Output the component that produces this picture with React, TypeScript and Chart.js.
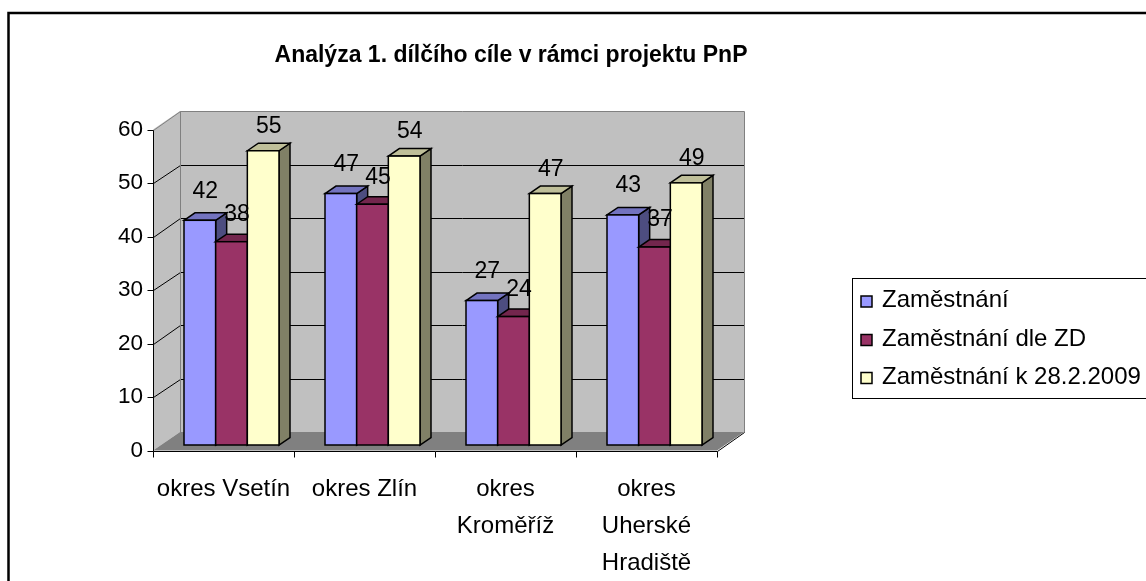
import React, { useEffect, useRef } from 'react';
import { Chart, registerables } from 'chart.js';

Chart.register(...registerables);

// ---------- data ----------
const chartTitle = 'Analýza 1. dílčího cíle v rámci projektu PnP';
const categories: (string | string[])[] = [
  'okres Vsetín',
  'okres Zlín',
  ['okres', 'Kroměříž'],
  ['okres', 'Uherské', 'Hradiště'],
];
const seriesNames = ['Zaměstnání', 'Zaměstnání dle ZD', 'Zaměstnání k 28.2.2009'];
const zamestnani = [42, 47, 27, 43];
const zamestnaniDleZD = [38, 45, 24, 37];
const zamestnaniK2822009 = [55, 54, 47, 49];
const yMin = 0;
const yMax = 60;
const yStep = 10;

// ---------- style ----------
const FONT = '"Liberation Sans", Arial, Helvetica, sans-serif';
const COLORS = ['#9999FF', '#993366', '#FFFFCC'];
const TOP_COLORS = ['#7373BF', '#73264D', '#BFBF99'];
const SIDE_COLORS = ['#4D4D80', '#4D1A33', '#808066'];
const LABEL_RAISE = [29, 27, 24];
const FRONT = { dx: -8, dy: 5.5 };
const BACK = { dx: 19, dy: -13 };
const DEPTH = { dx: 11, dy: -7.5 };
const WALL = '#C0C0C0';
const FLOOR = '#808080';
const EDGE = '#808080';

const crisp = (v: number) => Math.round(v) + 0.5;

function poly(ctx: CanvasRenderingContext2D, pts: number[][], fill?: string, stroke?: string, lw = 1) {
  ctx.beginPath();
  ctx.moveTo(pts[0][0], pts[0][1]);
  for (let i = 1; i < pts.length; i++) ctx.lineTo(pts[i][0], pts[i][1]);
  ctx.closePath();
  if (fill) {
    ctx.fillStyle = fill;
    ctx.fill();
  }
  if (stroke) {
    ctx.strokeStyle = stroke;
    ctx.lineWidth = lw;
    ctx.stroke();
  }
}

function line(ctx: CanvasRenderingContext2D, x1: number, y1: number, x2: number, y2: number, color: string, lw = 1) {
  ctx.beginPath();
  ctx.moveTo(x1, y1);
  ctx.lineTo(x2, y2);
  ctx.strokeStyle = color;
  ctx.lineWidth = lw;
  ctx.stroke();
}

const excel3d = {
  id: 'excel3d',
  beforeDraw(chart: any) {
    const { ctx, chartArea: ca, scales } = chart;
    const ys = scales.y;
    const L = ca.left;
    const R = ca.right;
    const fy = (v: number) => ys.getPixelForValue(v) + FRONT.dy;
    const by = (v: number) => ys.getPixelForValue(v) + BACK.dy;
    const fxL = L + FRONT.dx;
    const fxR = R + FRONT.dx;
    const bxL = L + BACK.dx;
    const bxR = R + BACK.dx;
    ctx.save();
    // back wall
    ctx.fillStyle = WALL;
    ctx.fillRect(bxL, by(yMax), bxR - bxL, by(yMin) - by(yMax));
    // side wall
    poly(ctx, [[fxL, fy(yMin)], [fxL, fy(yMax)], [bxL, by(yMax)], [bxL, by(yMin)]], WALL);
    // floor
    poly(ctx, [[fxL, fy(yMin)], [fxR, fy(yMin)], [bxR, by(yMin)], [bxL, by(yMin)]], FLOOR);
    // gridlines
    for (let v = yMin + yStep; v < yMax; v += yStep) {
      line(ctx, crisp(bxL), crisp(by(v)), crisp(bxR), crisp(by(v)), '#000000');
      line(ctx, crisp(fxL), crisp(fy(v)), crisp(bxL), crisp(by(v)), '#000000');
    }
    // wall edges
    line(ctx, crisp(bxL), crisp(by(yMax)), crisp(bxR), crisp(by(yMax)), EDGE);
    line(ctx, crisp(bxL), crisp(by(yMax)), crisp(bxL), crisp(by(yMin)), EDGE);
    line(ctx, crisp(bxR), crisp(by(yMax)), crisp(bxR), crisp(by(yMin)), EDGE);
    line(ctx, crisp(fxL), crisp(fy(yMax)), crisp(bxL), crisp(by(yMax)), EDGE);
    line(ctx, crisp(fxR), crisp(fy(yMin)), crisp(bxR), crisp(by(yMin)), '#000000');
    // axes
    line(ctx, crisp(fxL), crisp(fy(yMax)), crisp(fxL), crisp(fy(yMin)), '#000000');
    line(ctx, crisp(fxL), crisp(fy(yMin)), crisp(fxR), crisp(fy(yMin)), '#000000');
    for (let v = yMin; v <= yMax; v += yStep) {
      line(ctx, crisp(fxL - 6), crisp(fy(v)), crisp(fxL), crisp(fy(v)), '#000000');
    }
    const n = chart.data.labels.length;
    for (let i = 0; i <= n; i++) {
      const x = fxL + (i * (fxR - fxL)) / n;
      line(ctx, crisp(x), crisp(fy(yMin)), crisp(x), crisp(fy(yMin) + 6), '#000000');
    }
    ctx.restore();
  },
  afterDatasetsDraw(chart: any) {
    const { ctx } = chart;
    const n = chart.data.labels.length;
    const nd = chart.data.datasets.length;
    ctx.save();
    ctx.lineJoin = 'miter';
    for (let i = 0; i < n; i++) {
      for (let d = 0; d < nd; d++) {
        const el = chart.getDatasetMeta(d).data[i];
        const { x, y, base, width } = el.getProps(['x', 'y', 'base', 'width'], true);
        const xl = x - width / 2;
        const xr = x + width / 2;
        poly(ctx, [[xr, base], [xr, y], [xr + DEPTH.dx, y + DEPTH.dy], [xr + DEPTH.dx, base + DEPTH.dy]], SIDE_COLORS[d], '#000000', 1.5);
        poly(ctx, [[xl, y], [xl + DEPTH.dx, y + DEPTH.dy], [xr + DEPTH.dx, y + DEPTH.dy], [xr, y]], TOP_COLORS[d], '#000000', 1.5);
        el.draw(ctx);
        ctx.strokeStyle = '#000000';
        ctx.lineWidth = 1.5;
        ctx.strokeRect(xl, y, width, base - y);
      }
    }
    ctx.restore();
  },
  afterDraw(chart: any) {
    const { ctx } = chart;
    const n = chart.data.labels.length;
    const nd = chart.data.datasets.length;
    ctx.save();
    // data labels
    ctx.fillStyle = '#000000';
    ctx.font = `23px ${FONT}`;
    ctx.textAlign = 'center';
    ctx.textBaseline = 'middle';
    for (let d = 0; d < nd; d++) {
      for (let i = 0; i < n; i++) {
        const el = chart.getDatasetMeta(d).data[i];
        const { x, y } = el.getProps(['x', 'y'], true);
        ctx.fillText(String(chart.data.datasets[d].data[i]), x + DEPTH.dx / 2, y - LABEL_RAISE[d]);
      }
    }
    // title
    ctx.font = `bold 23px ${FONT}`;
    ctx.textBaseline = 'alphabetic';
    ctx.fillText(chartTitle, 511, 62);
    // legend
    ctx.strokeStyle = '#000000';
    ctx.lineWidth = 1;
    ctx.strokeRect(852.5, 278.5, 400, 120);
    ctx.font = `24px ${FONT}`;
    ctx.textAlign = 'left';
    ctx.textBaseline = 'middle';
    const legendY = [301.5, 340, 378];
    for (let d = 0; d < nd; d++) {
      const cy = legendY[d];
      ctx.fillStyle = chart.data.datasets[d].backgroundColor;
      ctx.fillRect(861, cy - 5.5, 11, 11);
      ctx.strokeStyle = '#000000';
      ctx.lineWidth = 1.5;
      ctx.strokeRect(861, cy - 5.5, 11, 11);
      ctx.fillStyle = '#000000';
      ctx.fillText(chart.data.datasets[d].label, 882, cy - 1);
    }
    // outer border
    ctx.strokeStyle = '#000000';
    ctx.lineWidth = 2.5;
    ctx.strokeRect(8.5, 13, 1300, 800);
    ctx.restore();
  },
};

export default function App() {
  const canvasRef = useRef<HTMLCanvasElement | null>(null);

  useEffect(() => {
    const canvas = canvasRef.current;
    if (!canvas) return;
    const series = [zamestnani, zamestnaniDleZD, zamestnaniK2822009];
    const chart = new Chart(canvas, {
      type: 'bar',
      data: {
        labels: categories,
        datasets: series.map((values, d) => ({
          label: seriesNames[d],
          data: values,
          backgroundColor: COLORS[d],
          borderWidth: 0,
          categoryPercentage: 95 / 141,
          barPercentage: 1,
        })),
      },
      options: {
        responsive: false,
        animation: false,
        devicePixelRatio: 1,
        layout: { padding: { top: 124, left: 101, right: 421, bottom: 0 } },
        plugins: {
          legend: { display: false },
          title: { display: false },
          tooltip: { enabled: false },
        },
        scales: {
          x: {
            type: 'category',
            offset: true,
            grid: { display: false, drawTicks: false },
            border: { display: false },
            ticks: {
              autoSkip: false,
              maxRotation: 0,
              minRotation: 0,
              labelOffset: FRONT.dx,
              padding: 26,
              color: '#000000',
              font: { family: FONT, size: 24, lineHeight: 37 / 24 },
            },
            afterFit: (scale: any) => {
              scale.height = 136;
            },
          },
          y: {
            min: yMin,
            max: yMax,
            grid: { display: false, drawTicks: false },
            border: { display: false },
            ticks: {
              stepSize: yStep,
              labelOffset: FRONT.dy,
              padding: 18,
              color: '#000000',
              font: { family: FONT, size: 22.5 },
            },
            afterFit: (scale: any) => {
              scale.width = 60;
            },
          },
        },
      },
      plugins: [excel3d],
    });
    return () => chart.destroy();
  }, []);

  return (
    <div style={{ position: 'fixed', left: 0, top: 0, width: 1146, height: 581, background: '#ffffff', overflow: 'hidden' }}>
      <canvas ref={canvasRef} width={1146} height={581} style={{ display: 'block' }} />
    </div>
  );
}
